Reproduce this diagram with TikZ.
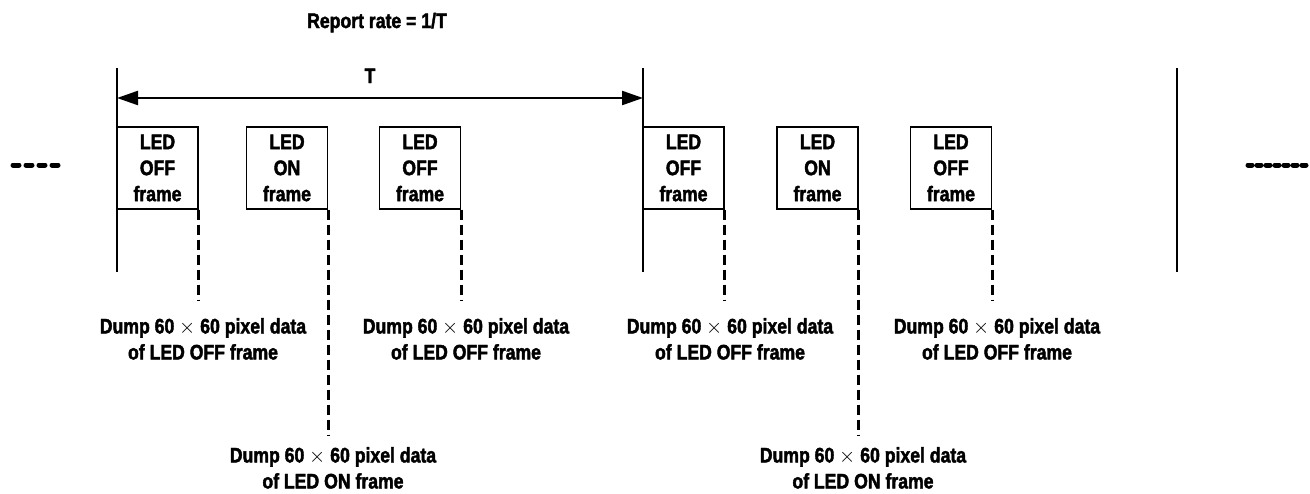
\documentclass[tikz,border=0pt]{standalone}
\usepackage{fontspec}
\newfontfamily\labfont{Liberation Sans}[FakeStretch=0.84,BoldFeatures={FakeBold=2}]
\usetikzlibrary{arrows.meta}
\newcommand{\tms}{$\times$}
\begin{document}
\begin{tikzpicture}[x=1pt,y=-1pt,
  txt/.style={font=\labfont\bfseries\fontsize{21}{26}\selectfont,inner sep=0pt,align=center},
  framebox/.style={txt,draw,line width=1.2pt,minimum width=81pt,minimum height=82pt},
  vline/.style={line width=2pt},
  dashline/.style={line width=2.8pt,dash pattern=on 10pt off 5pt},
  dumplabel/.style={txt,anchor=north},
  dotsline/.style={line width=5pt,dash pattern=on 6pt off 7pt,line cap=round},
  dotsline2/.style={line width=5pt,dash pattern=on 4pt off 5pt,line cap=round}
]
\useasboundingbox (0,0) rectangle (1310,493);

% title
\node[txt,anchor=base] (title) at (377,28) {Report rate = 1/T};

% period markers
\coordinate (p1t) at (117,68); \coordinate (p1b) at (117,272);
\coordinate (p2t) at (643,68); \coordinate (p2b) at (643,272);
\coordinate (p3t) at (1177,68); \coordinate (p3b) at (1177,272);
\draw[vline] (p1t) -- (p1b);
\draw[vline] (p2t) -- (p2b);
\draw[vline] (p3t) -- (p3b);

% period arrow
\coordinate (a1) at (117,98); \coordinate (a2) at (643,98);
\draw[line width=2.3pt,{Triangle[length=21pt,width=14pt]}-{Triangle[length=21pt,width=14pt]}] (a1) -- (a2);
\node[txt,anchor=base] (tlab) at (370,83) {T};

% frames
\node[framebox] (b1) at (157.5,168) {LED\\OFF\\frame};
\node[framebox] (b2) at (287,168) {LED\\ON\\frame};
\node[framebox] (b3) at (420,168) {LED\\OFF\\frame};
\node[framebox] (b4) at (683.5,168) {LED\\OFF\\frame};
\node[framebox] (b5) at (817.5,168) {LED\\ON\\frame};
\node[framebox] (b6) at (951,168) {LED\\OFF\\frame};

% dump labels
\node[dumplabel] (l1) at (203,318) {Dump 60 \tms{} 60 pixel data\\of LED OFF frame};
\node[dumplabel] (l2) at (333,447) {Dump 60 \tms{} 60 pixel data\\of LED ON frame};
\node[dumplabel] (l3) at (466,318) {Dump 60 \tms{} 60 pixel data\\of LED OFF frame};
\node[dumplabel] (l4) at (730,318) {Dump 60 \tms{} 60 pixel data\\of LED OFF frame};
\node[dumplabel] (l5) at (863,447) {Dump 60 \tms{} 60 pixel data\\of LED ON frame};
\node[dumplabel] (l6) at (997,318) {Dump 60 \tms{} 60 pixel data\\of LED OFF frame};

% dashed dump lines
\coordinate (e1) at (b1.south east |- 0,301);
\coordinate (e2) at (b2.south east |- 0,435);
\coordinate (e3) at (b3.south east |- 0,301);
\coordinate (e4) at (b4.south east |- 0,301);
\coordinate (e5) at (b5.south east |- 0,435);
\coordinate (e6) at (b6.south east |- 0,301);
\draw[dashline] (b1.south east) -- (e1);
\draw[dashline] (b2.south east) -- (e2);
\draw[dashline] (b3.south east) -- (e3);
\draw[dashline] (b4.south east) -- (e4);
\draw[dashline] (b5.south east) -- (e5);
\draw[dashline] (b6.south east) -- (e6);

% continuation dots
\coordinate (dl1) at (13,165); \coordinate (dl2) at (60,165);
\coordinate (dr1) at (1248,165); \coordinate (dr2) at (1306,165);
\draw[dotsline] (dl1) -- (dl2);
\draw[dotsline2] (dr1) -- (dr2);
\end{tikzpicture}
\end{document}
